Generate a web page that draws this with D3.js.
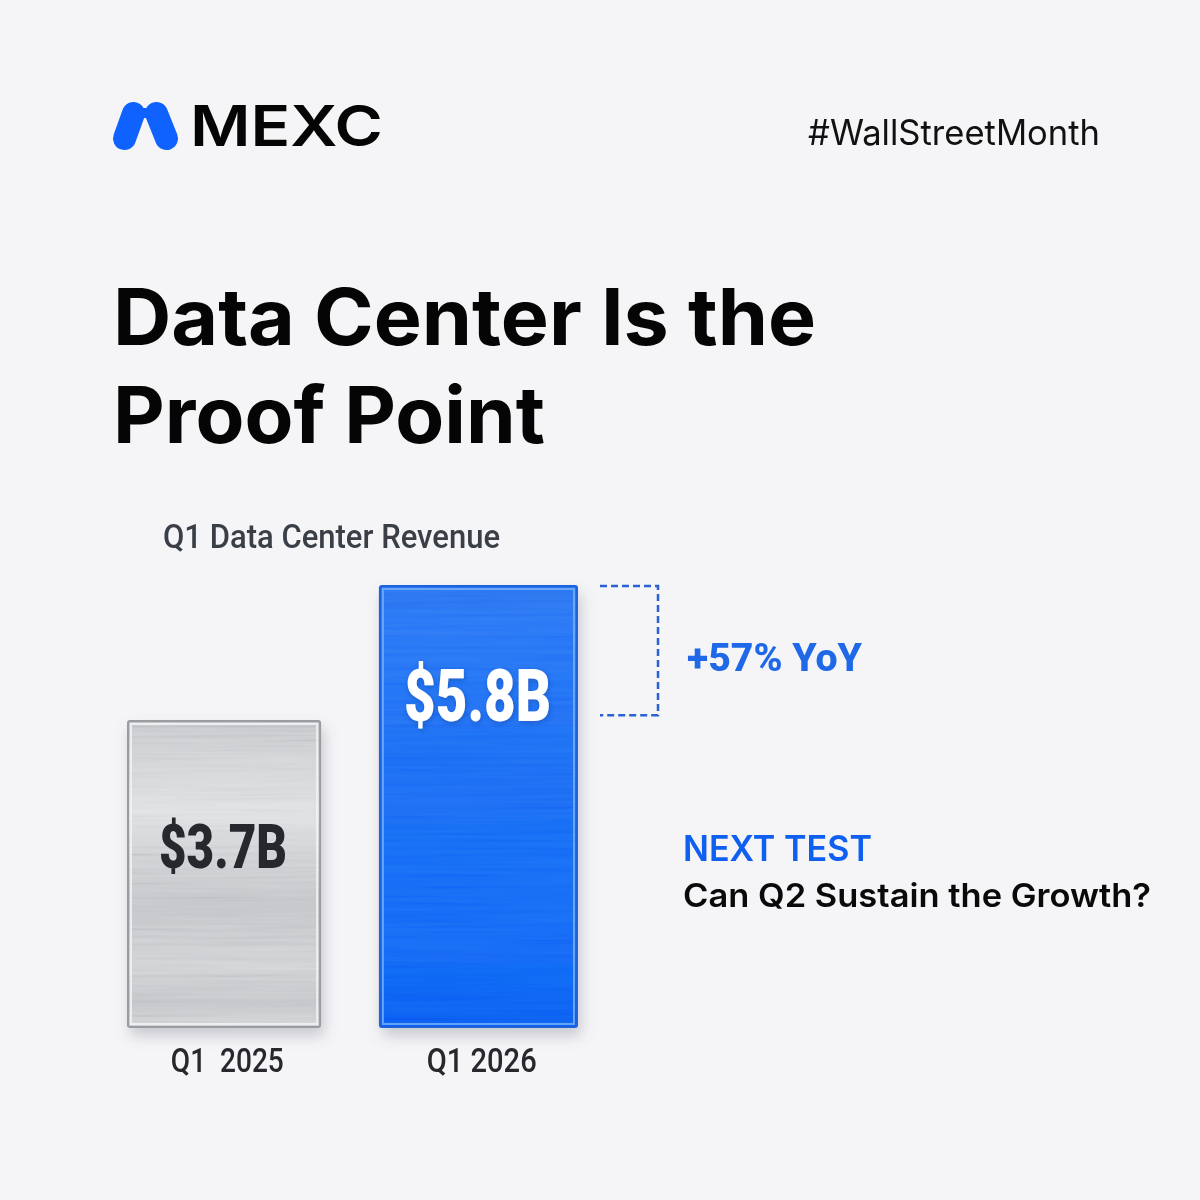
<!DOCTYPE html>
<html>
<head>
<meta charset="utf-8">
<script src="https://cdn.jsdelivr.net/npm/d3@7"></script>
<style>
  html, body { margin: 0; padding: 0; background: #f5f5f7; }
  svg { display: block; }
  text { font-family: Inter, sans-serif; }
  .cond { font-family: Roboto, sans-serif; }
  .tick text { white-space: pre; }
</style>
</head>
<body>
<svg id="chart" width="1200" height="1200"></svg>
<script>
const quarters = ['Q1  2025', 'Q1 2026']
const revenue = [3.7, 5.8]
const valueLabels = ['$3.7B', '$5.8B']
const bracketValues = [5.8, 3.79]
const titleLines = ['Data Center Is the', 'Proof Point']

const svg = d3.select('#chart')
const defs = svg.append('defs')

function gradient(id, stops) {
  const g = defs.append('linearGradient').attr('id', id)
    .attr('x1', 0).attr('x2', 0).attr('y1', 0).attr('y2', 1)
  stops.forEach(s => g.append('stop').attr('offset', s[0]).attr('stop-color', s[1]))
}
gradient('fillGrey', [[0, '#c4c6ca'], [0.12, '#d0d1d4'], [0.3, '#dedfe1'], [0.42, '#d0d1d4'], [0.6, '#c2c3c7'], [0.8, '#cfd0d3'], [0.92, '#c2c3c7'], [1, '#d0d1d4']])
gradient('fillBlue', [[0, '#2b74ee'], [0.08, '#2a78f6'], [0.4, '#1c6ef4'], [0.8, '#146bf6'], [1, '#0b60f2']])

const shadow = defs.append('filter').attr('id', 'barShadow')
  .attr('x', '-15%').attr('y', '-10%').attr('width', '130%').attr('height', '125%')
shadow.append('feDropShadow').attr('dx', 3).attr('dy', 8).attr('stdDeviation', 7)
  .attr('flood-color', '#6b7080').attr('flood-opacity', 0.32)

const textShadow = defs.append('filter').attr('id', 'textShadow')
  .attr('x', '-10%').attr('y', '-20%').attr('width', '120%').attr('height', '140%')
textShadow.append('feDropShadow').attr('dx', 1).attr('dy', 2).attr('stdDeviation', 2.5)
  .attr('flood-color', '#0b3f9c').attr('flood-opacity', 0.5)

const streaks = defs.append('filter').attr('id', 'streaks')
  .attr('x', 0).attr('y', 0).attr('width', '100%').attr('height', '100%')
streaks.append('feTurbulence').attr('type', 'fractalNoise')
  .attr('baseFrequency', '0.006 0.28').attr('numOctaves', 3).attr('seed', 4)
streaks.append('feColorMatrix').attr('values', '1.3 0 0 0 -0.15  1.3 0 0 0 -0.15  1.3 0 0 0 -0.15  0 0 0 0 1')
streaks.append('feGaussianBlur').attr('stdDeviation', '1.5 0.7')
streaks.append('feComposite').attr('in2', 'SourceAlpha').attr('operator', 'in')

const softEdge = defs.append('filter').attr('id', 'soft')
softEdge.append('feGaussianBlur').attr('stdDeviation', 0.5)

// page background
svg.append('rect').attr('width', 1200).attr('height', 1200).attr('fill', '#f5f5f7')

// logo
const logo = svg.append('g').attr('stroke', '#0f62fe').attr('stroke-width', 23).attr('stroke-linecap', 'round')
logo.append('line').attr('x1', 124.5).attr('y1', 138.5).attr('x2', 133.5).attr('y2', 113.5)
logo.append('line').attr('x1', 166.5).attr('y1', 138.5).attr('x2', 156.5).attr('y2', 113.5)
logo.append('line').attr('x1', 138).attr('y1', 113).attr('x2', 152).attr('y2', 113).attr('stroke-width', 10).attr('stroke-linecap', 'butt')

function label(text, x, baseline, size, weight, color, width, cls) {
  return svg.append('text')
    .attr('class', cls || null)
    .attr('x', x).attr('y', baseline)
    .attr('font-size', size).attr('font-weight', weight).attr('fill', color)
    .attr('textLength', width).attr('lengthAdjust', 'spacingAndGlyphs')
    .text(text)
}

label('MEXC', 190, 146, 57, 600, '#050505', 193)
label('#WallStreetMonth', 808, 145, 35, 400, '#111111', 292)

titleLines.forEach((line, i) => {
  label(line, 113, 345 + i * 98, 78, 700, '#050505', i === 0 ? 703 : 432)
})

label('Q1 Data Center Revenue', 163, 548, 34, 500, '#3a3f47', 337, 'cond')

// chart scales: the picture's bars are not zero based, the baseline sits near -1.06
const baseline = 1027
const y = d3.scaleLinear().domain([-1.06, 5.8]).range([baseline, 586])
const x = d3.scaleBand().domain(quarters).range([128, 577]).paddingInner(0.235).paddingOuter(0)

const fills = ['url(#fillGrey)', 'url(#fillBlue)']
const outlines = ['#9a9ca1', '#1d63dc']
const inner = ['#f4f4f5', '#6fb0ff']
const valueColors = ['#26282d', '#ffffff']
const barLeft = i => x(quarters[i]) - (i === 1 ? 2.5 : 0)
const barWidth = i => x.bandwidth() + (i === 1 ? 2.5 : -2.5)

const bars = svg.append('g').selectAll('g')
  .data(revenue)
  .join('g')

bars.append('rect')
  .attr('x', (d, i) => barLeft(i))
  .attr('y', d => y(d))
  .attr('width', (d, i) => barWidth(i))
  .attr('height', d => baseline - y(d))
  .attr('rx', 2)
  .attr('fill', (d, i) => fills[i])
  .attr('stroke', (d, i) => outlines[i])
  .attr('stroke-width', 2)
  .attr('filter', 'url(#barShadow)')

bars.append('rect')
  .attr('x', (d, i) => barLeft(i) + 2)
  .attr('y', d => y(d) + 2)
  .attr('width', (d, i) => barWidth(i) - 4)
  .attr('height', d => baseline - y(d) - 4)
  .attr('fill', '#ffffff')
  .attr('filter', 'url(#streaks)')
  .style('mix-blend-mode', 'soft-light')
  .attr('opacity', (d, i) => i === 0 ? 0.4 : 0.15)

bars.append('rect')
  .attr('x', (d, i) => barLeft(i) + 3)
  .attr('y', d => y(d) + 3)
  .attr('width', (d, i) => barWidth(i) - 6)
  .attr('height', d => baseline - y(d) - 6)
  .attr('fill', 'none')
  .attr('stroke', (d, i) => inner[i])
  .attr('stroke-width', 2)
  .attr('opacity', 0.85)
  .attr('filter', 'url(#soft)')

label(valueLabels[0], 159, 868, 61, 900, valueColors[0], 128, 'cond')
label(valueLabels[1], 404, 721, 73, 900, valueColors[1], 147, 'cond').attr('filter', 'url(#textShadow)')

// category labels
const axis = svg.append('g')
  .attr('transform', `translate(2,${baseline})`)
  .call(d3.axisBottom(x).tickSize(0).tickPadding(22))
axis.select('.domain').remove()
axis.selectAll('text')
  .attr('class', 'cond')
  .attr('font-family', 'Roboto, sans-serif')
  .attr('font-size', 33)
  .attr('font-weight', 500)
  .attr('fill', '#26282d')
  .attr('textLength', (d, i) => i === 0 ? 113 : 110)
  .attr('lengthAdjust', 'spacingAndGlyphs')

// bracket marking the gap between the two quarters
const bracketPath = d3.path()
bracketPath.moveTo(600, y(bracketValues[0]))
bracketPath.lineTo(658, y(bracketValues[0]))
bracketPath.lineTo(658, y(bracketValues[1]))
bracketPath.lineTo(600, y(bracketValues[1]))
svg.append('path')
  .attr('d', bracketPath.toString())
  .attr('fill', 'none')
  .attr('stroke', '#2a62d6')
  .attr('stroke-width', 2.5)
  .attr('stroke-dasharray', '7 4')

label('+57% YoY', 687, 671, 39, 800, '#1f68e8', 175, 'cond')
label('NEXT TEST', 683, 861, 35, 600, '#0f5ff0', 189)
label('Can Q2 Sustain the Growth?', 683, 907, 33, 600, '#0a0a0a', 468)
</script>
</body>
</html>
